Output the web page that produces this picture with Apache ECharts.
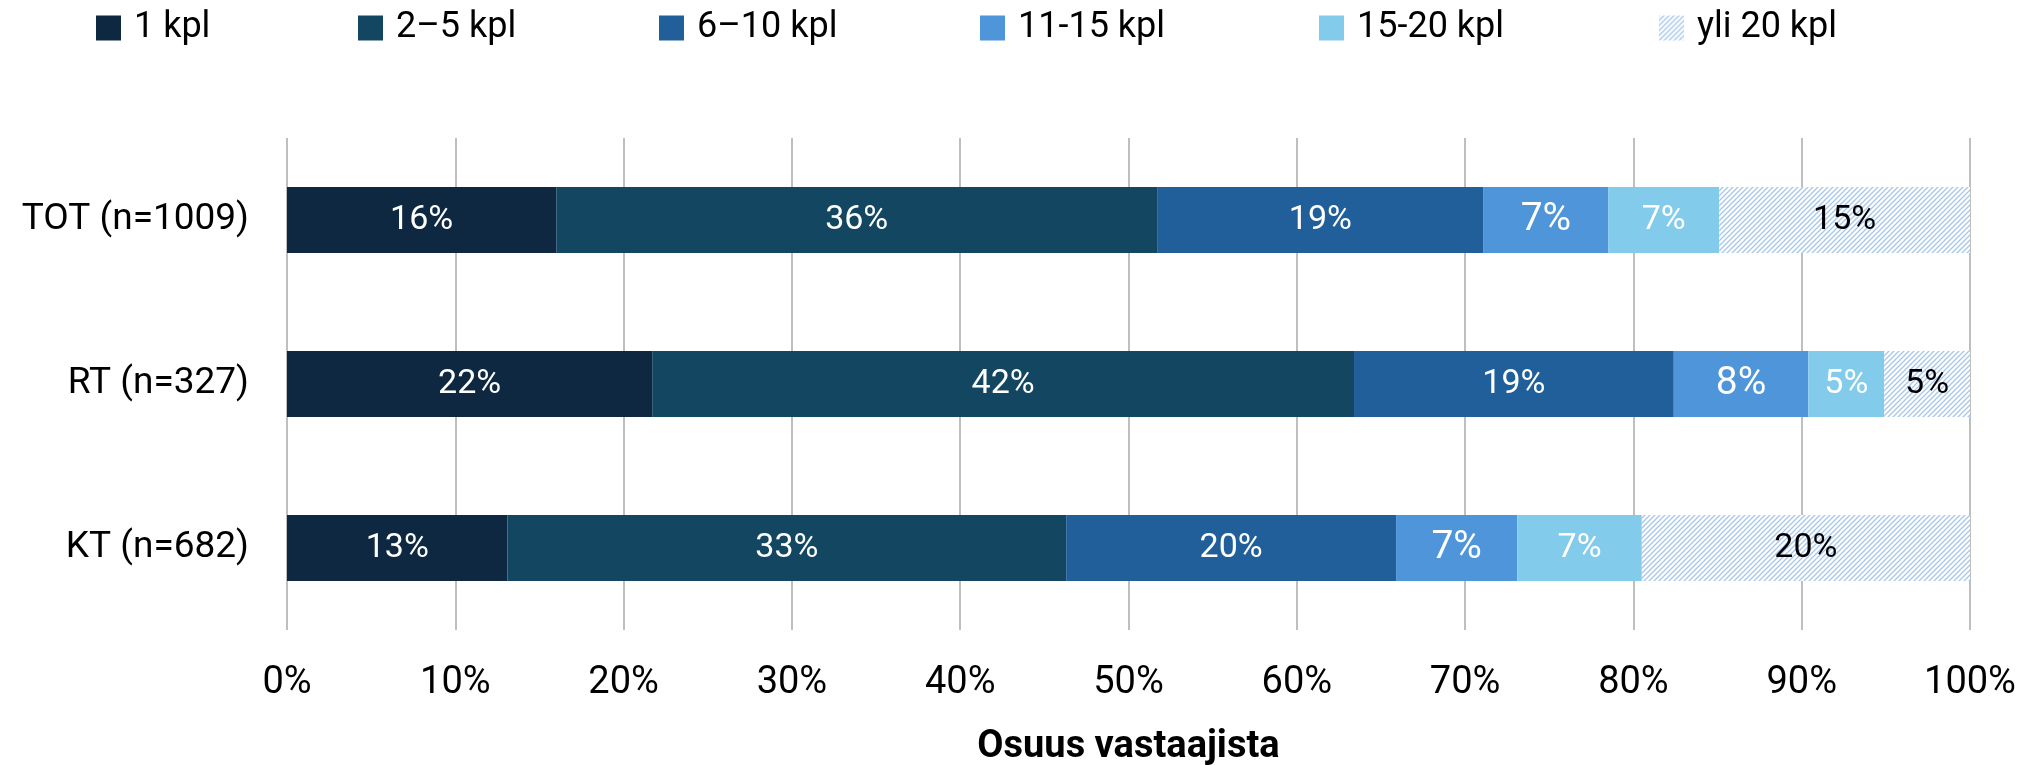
<!DOCTYPE html>
<html>
<head>
<meta charset="utf-8">
<script src="https://cdn.jsdelivr.net/npm/echarts@6/dist/echarts.min.js"></script>
<style>
  html, body { margin: 0; padding: 0; background: #fff; }
  #chart { width: 2044px; height: 765px; }
</style>
</head>
<body>
<div id="chart"></div>
<script>
const groups = ['TOT (n=1009)', 'RT (n=327)', 'KT (n=682)'];
const seriesNames = ['1 kpl', '2–5 kpl', '6–10 kpl', '11-15 kpl', '15-20 kpl', 'yli 20 kpl'];
const oneKpl = [16.0, 21.7, 13.1];
const twoToFive = [35.7, 41.7, 33.2];
const sixToTen = [19.4, 19.0, 19.6];
const elevenToFifteen = [7.4, 8.0, 7.2];
const fifteenToTwenty = [6.6, 4.5, 7.4];
const overTwenty = [14.9, 5.1, 19.5];
const xTicks = [0, 10, 20, 30, 40, 50, 60, 70, 80, 90, 100];

const values = [oneKpl, twoToFive, sixToTen, elevenToFifteen, fifteenToTwenty, overTwenty];
const colors = ['#0f2841', '#134660', '#215f9a', '#4e95d9', '#83cbeb'];
// where each legend entry starts (px from left)
const legendLeft = [91, 353, 654, 975, 1314, 1654];

// hatch pattern for "yli 20 kpl"
const hatch = document.createElement('canvas');
hatch.width = 5; hatch.height = 5;
const ctx = hatch.getContext('2d');
ctx.fillStyle = '#ffffff';
ctx.fillRect(0, 0, 5, 5);
ctx.strokeStyle = '#a6c7ec';
ctx.lineWidth = 1.3;
ctx.beginPath();
ctx.moveTo(-1, 6); ctx.lineTo(6, -1);
ctx.moveTo(-1, 1); ctx.lineTo(1, -1);
ctx.moveTo(4, 6); ctx.lineTo(6, 4);
ctx.stroke();
const hatchColor = { image: hatch, repeat: 'repeat' };

const font = 'Roboto';
const chart = echarts.init(document.getElementById('chart'));

const series = seriesNames.map((name, i) => ({
  name: name,
  type: 'bar',
  stack: 'total',
  barWidth: 66,
  data: values[i],
  itemStyle: { color: i < 5 ? colors[i] : hatchColor },
  label: {
    show: true,
    position: 'inside',
    fontFamily: font,
    fontSize: i === 3 ? 39 : 34,
    color: i === 5 ? '#000' : '#fff',
    formatter: p => Math.round(p.value) + '%'
  },
  emphasis: { disabled: true }
}));

// one legend per entry so they sit at fixed spots
const legends = seriesNames.map((name, i) => ({
  left: legendLeft[i],
  top: 5,
  itemWidth: 25,
  itemHeight: 25,
  icon: 'rect',
  data: [name],
  textStyle: {
    fontFamily: font,
    fontSize: 36,
    color: '#000',
    padding: [0, 0, 0, 8]
  }
}));

chart.setOption({
  animation: false,
  textStyle: { fontFamily: font },
  legend: legends,
  grid: { left: 287, right: 74, top: 138, bottom: 135, outerBoundsMode: 'none' },
  xAxis: {
    type: 'value',
    min: 0,
    max: 100,
    interval: 10,
    axisLine: { show: false },
    axisTick: { show: false },
    splitLine: { show: true, lineStyle: { color: '#bfbfbf', width: 2 } },
    axisLabel: {
      fontFamily: font,
      fontSize: 38,
      color: '#000',
      margin: 34,
      formatter: v => (xTicks.includes(v) ? v + '%' : '')
    },
    name: 'Osuus vastaajista',
    nameLocation: 'middle',
    nameGap: 98,
    nameTextStyle: { fontFamily: font, fontSize: 38, fontWeight: 'bold', color: '#000' }
  },
  yAxis: {
    type: 'category',
    inverse: true,
    data: groups,
    axisLine: { show: false },
    axisTick: { show: false },
    axisLabel: { fontFamily: font, fontSize: 37, color: '#000', margin: 38 }
  },
  series: series
});
</script>
</body>
</html>
